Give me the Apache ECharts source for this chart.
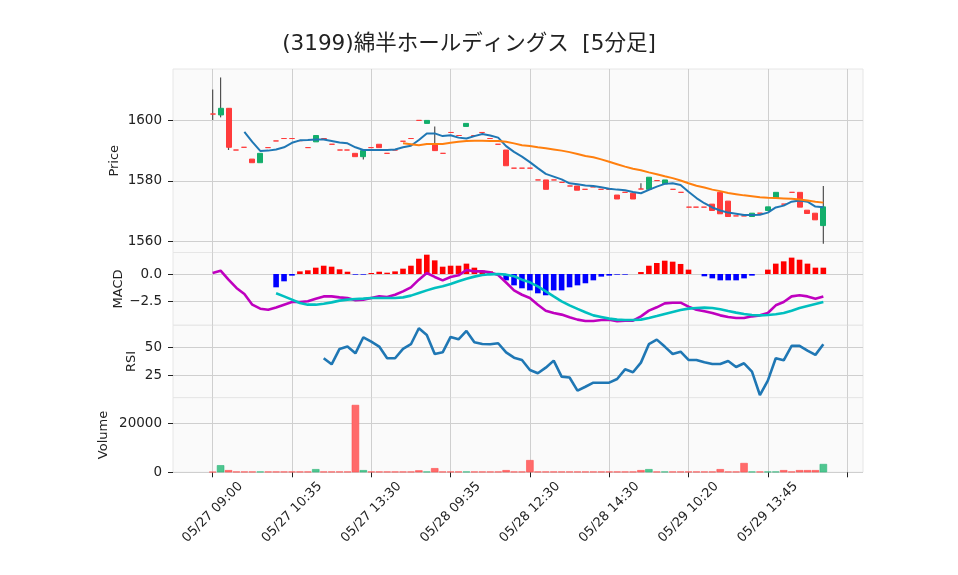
<!DOCTYPE html>
<html><head><meta charset="utf-8">
<script src="https://cdn.jsdelivr.net/npm/echarts@6/dist/echarts.min.js"></script>
<style>html,body{margin:0;padding:0;background:#fff}#c{width:958px;height:575px}</style>
</head><body><div id="c"></div>
<script>
const titleText = '(3199)綿半ホールディングス  [5分足]';
const xTickLabels = ['05/27 09:00','05/27 10:35','05/27 13:30','05/28 09:35','05/28 12:30','05/28 14:30','05/29 10:20','05/29 13:45'];

const opens = [1602.1,1601.8,1604.0,1590.2,1591.1,1587.2,1586.0,1591.0,1593.2,1594.0,
  1594.0,1593.3,1591.0,1592.9,1594.0,1592.1,1590.2,1590.2,1589.1,1588.0,
  1591.0,1592.1,1589.1,1590.2,1593.1,1594.0,1600.0,1599.0,1592.1,1589.1,
  1596.0,1595.0,1598.0,1595.0,1596.0,1594.0,1592.1,1590.2,1584.2,1584.2,
  1584.2,1580.3,1580.3,1580.3,1579.5,1578.3,1578.3,1577.2,1578.0,1577.2,
  1577.2,1575.3,1576.2,1575.9,1577.3,1577.2,1580.1,1579.0,1577.2,1576.2,
  1571.3,1571.3,1571.3,1572.3,1576.2,1573.3,1568.4,1568.4,1568.2,1569.3,
  1570.2,1574.3,1572.3,1576.2,1576.2,1570.3,1569.3,1565.2];
const closes = [1602.1,1604.0,1591.1,1590.2,1591.1,1586.0,1589.1,1591.0,1593.2,1594.0,
  1594.0,1593.3,1591.0,1595.0,1594.0,1592.1,1590.2,1590.2,1588.0,1590.0,
  1591.0,1591.0,1589.1,1590.2,1593.1,1594.0,1600.0,1600.0,1590.0,1589.1,
  1596.0,1595.0,1599.0,1595.0,1596.0,1594.0,1592.1,1585.0,1584.2,1584.2,
  1584.2,1580.3,1577.2,1580.3,1579.5,1578.3,1576.9,1577.2,1578.0,1577.2,
  1577.2,1574.0,1576.2,1574.0,1577.3,1581.2,1580.1,1580.3,1577.2,1576.2,
  1571.3,1571.3,1571.3,1570.2,1569.1,1568.2,1568.4,1568.4,1569.3,1569.3,
  1571.4,1576.2,1572.3,1576.2,1571.3,1569.2,1567.1,1571.4];
// visible wicks: [index, low, high]
const wicks = [[0,1600.1,1610.2],[1,1601.0,1614.2],[2,1590.2,1604.0],[19,1587.1,1590.0],
  [28,1590.0,1598.0],[54,1577.3,1579.2],[77,1559.2,1578.3]];
const volumes = [200,2900,900,300,300,300,300,300,300,300,
  300,300,300,1300,300,300,300,300,27500,900,
  300,300,300,300,300,300,800,300,1700,300,
  300,300,300,300,300,300,300,900,300,300,
  5000,300,300,300,300,300,300,300,300,300,
  300,300,300,300,900,1300,300,300,300,300,
  300,300,300,300,1300,300,300,3800,300,300,
  300,300,900,300,900,900,900,3400];
const ma5 = [null,null,null,null,1596.2,1592.9,1589.9,1590.0,1590.4,1591.1,
  1592.6,1593.4,1593.5,1593.7,1593.7,1593.2,1592.7,1592.4,1591.1,1590.2,
  1590.2,1590.2,1590.2,1590.4,1591.1,1591.6,1593.5,1595.7,1595.7,1594.8,
  1595.1,1594.3,1594.0,1594.8,1595.5,1595.0,1594.3,1591.5,1589.6,1588.0,
  1586.2,1584.2,1582.3,1581.4,1580.5,1579.2,1578.9,1578.5,1578.3,1577.9,
  1577.4,1577.1,1576.9,1576.3,1575.9,1577.0,1578.1,1579.0,1579.2,1578.6,
  1576.4,1574.3,1572.6,1571.2,1570.2,1569.5,1569.1,1568.7,1568.7,1568.8,
  1569.5,1571.2,1571.8,1573.1,1573.5,1573.1,1571.5,1571.3];
const ma25 = [null,null,null,null,null,null,null,null,null,null,
  null,null,null,null,null,null,null,null,null,null,
  null,null,null,null,1592.4,1592.1,1591.8,1592.2,1592.2,1592.2,
  1592.6,1592.9,1593.2,1593.3,1593.3,1593.2,1593.2,1592.9,1592.4,1591.8,
  1591.5,1591.1,1590.8,1590.4,1590.0,1589.5,1588.9,1588.2,1587.8,1587.1,
  1586.3,1585.5,1584.7,1584.0,1583.5,1582.8,1582.2,1581.5,1580.9,1580.1,
  1579.2,1578.4,1577.8,1577.1,1576.6,1576.0,1575.6,1575.2,1574.9,1574.6,
  1574.4,1574.3,1574.2,1574.1,1573.8,1573.5,1573.1,1572.8];
const macdLine = [0.09,0.3,-0.52,-1.28,-1.83,-2.81,-3.18,-3.27,-3.06,-2.81,
  -2.57,-2.57,-2.5,-2.26,-2.05,-2.05,-2.14,-2.2,-2.41,-2.35,
  -2.2,-2.05,-2.11,-1.9,-1.59,-1.22,-0.52,0.09,-0.27,-0.58,
  -0.27,-0.12,0.37,0.24,0.24,0.15,-0.1,-0.78,-1.5,-1.9,
  -2.2,-2.81,-3.36,-3.57,-3.72,-3.97,-4.18,-4.3,-4.3,-4.21,
  -4.18,-4.33,-4.27,-4.27,-3.88,-3.36,-3.05,-2.69,-2.63,-2.63,
  -2.99,-3.27,-3.42,-3.57,-3.79,-3.94,-4.03,-4.03,-3.88,-3.79,
  -3.57,-2.87,-2.57,-2.05,-1.95,-2.05,-2.26,-2.05];
const macdSignal = [null,null,null,null,null,null,null,null,-1.77,-2.05,
  -2.35,-2.66,-2.81,-2.81,-2.72,-2.6,-2.44,-2.35,-2.29,-2.26,
  -2.2,-2.2,-2.2,-2.2,-2.14,-1.98,-1.74,-1.5,-1.28,-1.13,
  -0.92,-0.67,-0.43,-0.24,-0.09,-0.03,0,-0.06,-0.21,-0.52,
  -0.76,-1.13,-1.59,-2.05,-2.5,-2.87,-3.2,-3.51,-3.79,-3.94,
  -4.09,-4.18,-4.21,-4.21,-4.18,-4.03,-3.85,-3.66,-3.48,-3.3,
  -3.17,-3.11,-3.08,-3.11,-3.23,-3.39,-3.54,-3.66,-3.75,-3.79,
  -3.75,-3.69,-3.57,-3.36,-3.11,-2.93,-2.75,-2.57];
const macdHist = [null,null,null,null,null,null,null,null,-1.22,-0.67,
  -0.15,0.24,0.34,0.58,0.76,0.67,0.43,0.21,-0.06,-0.06,
  0.09,0.21,0.12,0.24,0.49,0.76,1.4,1.77,1.25,0.67,
  0.76,0.76,0.95,0.58,0.31,0.24,0.02,-0.58,-1.04,-1.31,
  -1.5,-1.77,-1.95,-1.5,-1.5,-1.22,-1.04,-0.85,-0.58,-0.24,
  -0.15,-0.06,-0.06,0,0.18,0.76,1.01,1.22,1.13,0.92,
  0.4,0,-0.21,-0.4,-0.58,-0.58,-0.58,-0.4,-0.15,0,
  0.4,0.95,1.16,1.5,1.31,0.95,0.58,0.58];
const rsi = [null,null,null,null,null,null,null,null,null,null,
  null,null,null,null,40.2,34.8,48.5,50.6,44.6,58.9,
  55.0,50.6,40.2,40.2,48.5,52.7,67.0,61.0,44.0,45.5,
  59.2,57.1,64.6,54.4,52.9,52.7,53.6,45.5,40.7,38.7,
  29.7,26.8,31.8,38.1,23.8,23.0,11.3,14.8,18.4,18.4,
  18.4,21.7,30.3,27.7,36.3,52.7,56.8,50.6,44.0,46.1,
  38.7,38.7,36.6,35.1,35.1,37.8,32.4,35.7,28.2,7.4,
  20.2,40.2,38.4,51.2,51.2,47.0,43.2,52.7];

const PAD = 5, NCAT = 88;
const UP = '#13ae6b', DOWN = '#ff3b3b', VUP = '#4fc690', VDOWN = '#ff6b6b';
const FONT = '"DejaVu Sans", "Noto Sans CJK JP", sans-serif';
const categories = Array.from({length: NCAT}, (_, i) => String(i - PAD));
const isTick = (idx) => (idx - PAD) % 10 === 0 && idx >= PAD;
const lineData = (arr) => arr.map((v, i) => v == null ? null : [i + PAD, v]).filter(d => d);

const candleData = opens.map((o, i) => {
  const c = closes[i];
  const item = {value: [i + PAD, o, c, Math.min(o, c), Math.max(o, c)]};
  if (o === c) item.itemStyle = {color: DOWN, color0: DOWN, borderColor: DOWN, borderColor0: DOWN, borderColorDoji: DOWN};
  return item;
});
const volData = volumes.map((v, i) => {
  const up = closes[i] > opens[i];
  return {value: [i + PAD, v], itemStyle: {color: up ? VUP : VDOWN, borderColor: up ? '#2fb57a' : '#ff4d4d', borderWidth: 0.6}};
});
const histData = macdHist.map((v, i) => v == null ? null : {value: [i + PAD, v], itemStyle: {color: v >= 0 ? '#ff0000' : '#0000ff'}}).filter(d => d);

const grids = [
  {left: 173, width: 690, top: 69, height: 183.5},
  {left: 173, width: 690, top: 252.5, height: 72.8},
  {left: 173, width: 690, top: 325.3, height: 72.4},
  {left: 173, width: 690, top: 397.7, height: 74.6}
].map(g => Object.assign(g, {show: true, backgroundColor: '#fafafa', borderColor: '#e6e6e6', borderWidth: 1}));

function makeX(gi, showLabels) {
  return {
    type: 'category', gridIndex: gi, data: categories, boundaryGap: false,
    axisLine: {show: false},
    axisTick: {show: showLabels, interval: (idx) => isTick(idx), length: 5, lineStyle: {color: '#222'}},
    axisLabel: {
      show: showLabels, interval: (idx) => isTick(idx), rotate: 45, align: 'center', verticalAlign: 'middle',
      margin: 40, fontSize: 13, color: '#222', fontFamily: FONT,
      formatter: (val, idx) => { const k = (idx - PAD) / 10; return xTickLabels[k] || ''; }
    },
    splitLine: {show: true, interval: (idx) => isTick(idx), lineStyle: {color: '#cfcfcf', width: 1}}
  };
}
function makeY(gi, min, max, ticks, name, gap, fmt) {
  return {
    type: 'value', gridIndex: gi, min: min, max: max, position: 'left',
    name: name, nameLocation: 'middle', nameRotate: 90, nameGap: gap, nameMoveOverlap: false,
    nameTextStyle: {fontSize: 13, color: '#222', fontFamily: FONT},
    axisLine: {show: false},
    axisTick: {show: true, length: 5, lineStyle: {color: '#222'}, customValues: ticks},
    axisLabel: {customValues: ticks, formatter: fmt, fontSize: 13.5, color: '#222', margin: 11, fontFamily: FONT},
    splitLine: {show: true, lineStyle: {color: '#cfcfcf', width: 1}}
  };
}
const fmtMinus = (v) => (v < 0 ? '\u2212' + Math.abs(v).toFixed(1) : v.toFixed(1));

const option = {
  animation: false,
  backgroundColor: '#ffffff',
  title: {text: titleText, left: 464, top: 29, textAlign: 'center',
    textStyle: {fontSize: 21.5, fontWeight: 'normal', color: '#222', fontFamily: FONT}},
  grid: grids,
  xAxis: [makeX(0, false), makeX(1, false), makeX(2, false), makeX(3, true)],
  yAxis: [
    makeY(0, 1556.3, 1617.0, [1560, 1580, 1600], 'Price', 51.5, (v) => String(v)),
    makeY(1, -4.70, 1.97, [-2.5, 0], 'MACD', 47.5, fmtMinus),
    makeY(2, 5.0, 69.6, [25, 50], 'RSI', 34.5, (v) => String(v)),
    makeY(3, 0, 30450, [0, 20000], 'Volume', 62.5, (v) => String(v))
  ],
  series: [
    {type: 'custom', xAxisIndex: 0, yAxisIndex: 0, z: 2, silent: true,
      data: wicks.map(w => [w[0] + PAD, w[1], w[2]]), encode: {x: 0, y: [1, 2]},
      renderItem: (params, api) => {
        const a = api.coord([api.value(0), api.value(1)]);
        const b = api.coord([api.value(0), api.value(2)]);
        return {type: 'line', shape: {x1: a[0], y1: a[1], x2: b[0], y2: b[1]}, style: {stroke: '#505050', lineWidth: 1.2}};
      }},
    {type: 'candlestick', xAxisIndex: 0, yAxisIndex: 0, z: 3, barWidth: 5.5,
      data: candleData, encode: {x: 0, y: [1, 2, 3, 4]},
      itemStyle: {color: UP, color0: DOWN, borderColor: UP, borderColor0: DOWN, borderColorDoji: DOWN, borderWidth: 1}},
    {type: 'line', xAxisIndex: 0, yAxisIndex: 0, z: 4, data: lineData(ma5), showSymbol: false,
      lineStyle: {color: '#1f77b4', width: 2}},
    {type: 'line', xAxisIndex: 0, yAxisIndex: 0, z: 4, data: lineData(ma25), showSymbol: false,
      lineStyle: {color: '#ff7f0e', width: 2}},
    {type: 'bar', xAxisIndex: 1, yAxisIndex: 1, z: 2, barWidth: 5.6, data: histData},
    {type: 'line', xAxisIndex: 1, yAxisIndex: 1, z: 3, data: lineData(macdLine), showSymbol: false,
      lineStyle: {color: '#bf00bf', width: 2.6}},
    {type: 'line', xAxisIndex: 1, yAxisIndex: 1, z: 3, data: lineData(macdSignal), showSymbol: false,
      lineStyle: {color: '#00bfbf', width: 2.6}},
    {type: 'line', xAxisIndex: 2, yAxisIndex: 2, z: 3, data: lineData(rsi), showSymbol: false,
      lineStyle: {color: '#1f77b4', width: 2.6}},
    {type: 'bar', xAxisIndex: 3, yAxisIndex: 3, z: 2, barWidth: 7.4, data: volData}
  ]
};
echarts.init(document.getElementById('c'), null, {renderer: 'canvas'}).setOption(option);
</script></body></html>
